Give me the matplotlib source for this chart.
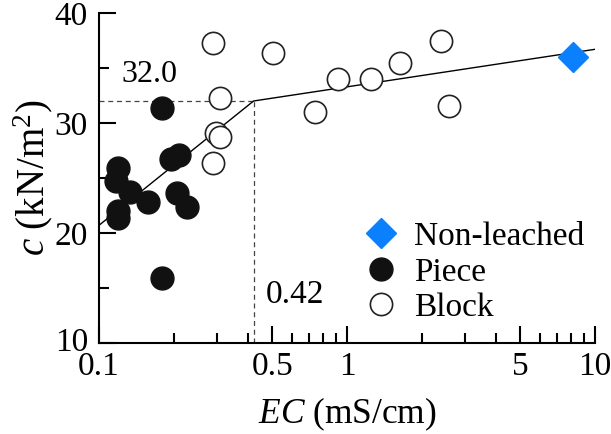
import matplotlib
matplotlib.use("Agg")
import matplotlib.pyplot as plt
import matplotlib.transforms as mtransforms
from matplotlib.ticker import FixedLocator, NullFormatter, FixedFormatter

plt.rcParams['font.family'] = ['Liberation Serif', 'DejaVu Serif']
plt.rcParams['mathtext.fontset'] = 'custom'
plt.rcParams['mathtext.rm'] = 'Liberation Serif'
plt.rcParams['mathtext.it'] = 'Liberation Serif:italic'

# Data
piece_ec = [0.119, 0.117, 0.133, 0.158, 0.119, 0.119, 0.1795, 0.196, 0.211, 0.207, 0.227, 0.179]
piece_c = [25.9, 24.7, 23.75, 22.85, 22.0, 21.4, 31.4, 26.7, 27.1, 23.6, 22.4, 15.9]

block_ec = [0.287, 0.505, 0.3076, 0.2965, 0.3076, 0.287, 0.743, 0.923, 1.246, 1.636, 2.39, 2.58]
block_c = [37.25, 36.34, 32.25, 29.06, 28.76, 26.34, 31.03, 33.97, 33.97, 35.43, 37.45, 31.57]

nonleached_ec = [8.13]
nonleached_c = [35.97]

fit_ec = [0.1, 0.42, 10]
fit_c = [20.7, 32.0, 36.7]

threshold_ec = 0.42
threshold_c = 32.0

xticks_major = [0.1, 0.5, 1, 5, 10]
xtick_labels = ['0.1', '0.5', '1', '5', '10']
xticks_minor = [0.2, 0.3, 0.4, 0.6, 0.7, 0.8, 0.9, 2, 3, 4, 6, 7, 8, 9]
yticks_major = [10, 20, 30, 40]
yticks_minor = [15, 25, 35]

fs = 23

fig = plt.figure(figsize=(6.11, 4.34), dpi=100)
ax = fig.add_axes([99/611, 1-343/434, (595-99)/611, (343-13)/434])
ax.set_xscale('log')
ax.set_xlim(0.1, 10)
ax.set_ylim(10, 40)

ax.plot(fit_ec, fit_c, color='black', lw=1.0, zorder=2)
ax.plot([0.1, threshold_ec], [threshold_c, threshold_c], color='#444444', lw=0.9, ls=(0, (4, 3)), zorder=1)
ax.plot([threshold_ec, threshold_ec], [10, threshold_c], color='#444444', lw=0.9, ls=(0, (4, 3)), zorder=1)

ax.plot(piece_ec, piece_c, 'o', ms=16.5, mfc='#111111', mec='#111111', ls='none', label='Piece', zorder=3)
ax.plot(block_ec, block_c, 'o', ms=16, mfc='white', mec='#222222', mew=1.2, ls='none', label='Block', zorder=3)
ax.plot(nonleached_ec, nonleached_c, 'D', ms=15.5, mfc='#0a80ff', mec='#0a80ff', ls='none', label='Non-leached', zorder=4)

ax.text(0.123, 34.4, '32.0', fontsize=fs, ha='left', va='center')
ax.text(0.472, 14.4, '0.42', fontsize=24, ha='left', va='center')

for s in ['top', 'right']:
    ax.spines[s].set_visible(False)
for s in ['left', 'bottom']:
    ax.spines[s].set_linewidth(1.5)

ax.xaxis.set_major_locator(FixedLocator(xticks_major))
ax.xaxis.set_major_formatter(FixedFormatter(xtick_labels))
ax.xaxis.set_minor_locator(FixedLocator(xticks_minor))
ax.xaxis.set_minor_formatter(NullFormatter())
ax.yaxis.set_major_locator(FixedLocator(yticks_major))
ax.yaxis.set_minor_locator(FixedLocator(yticks_minor))

ax.tick_params(which='major', direction='in', length=12, width=1.5, labelsize=24)
ax.tick_params(axis='y', which='major', pad=8)
ax.tick_params(axis='x', which='major', pad=6)
ax.tick_params(which='minor', direction='in', length=7, width=1.5)

# nudge the bottom y label ("10") slightly up, as in the reference
fig.canvas.draw()
ylabs = ax.get_yticklabels()
ylabs[0].set_transform(ylabs[0].get_transform() + mtransforms.ScaledTranslation(0, 4/100, fig.dpi_scale_trans))

ax.set_xlabel(r'$EC$ (mS/cm)', fontsize=25.5, labelpad=10)
ax.set_ylabel(r'$c$ (kN/m$^2$)', fontsize=28, labelpad=0)

h, l = ax.get_legend_handles_labels()
order = [2, 0, 1]
leg = ax.legend([h[i] for i in order], [l[i] for i in order], loc='lower left',
                bbox_to_anchor=(0.505, 0.02), frameon=False, fontsize=24,
                handletextpad=0.45, labelspacing=0.15, borderaxespad=0, handlelength=1.1)

fig.savefig('out.png', dpi=100)
